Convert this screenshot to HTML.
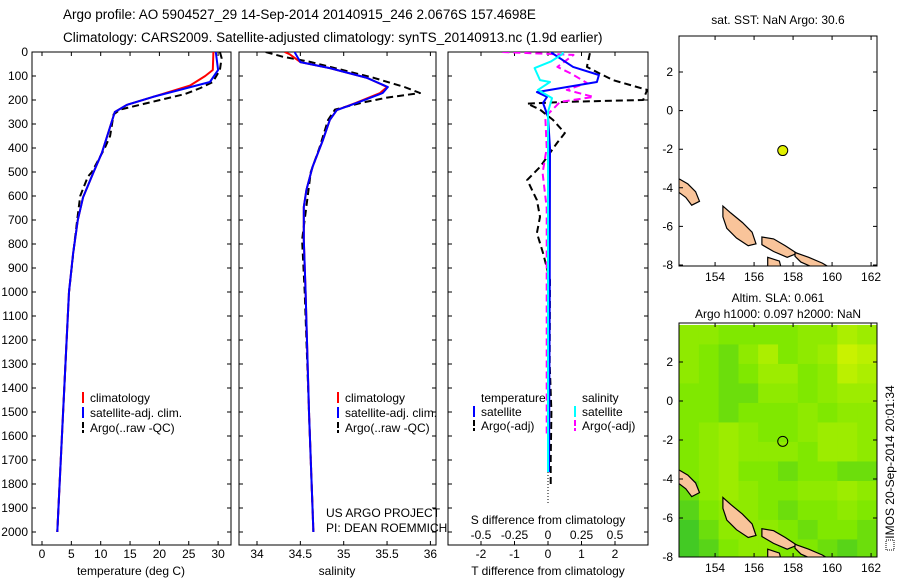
<!DOCTYPE html>
<html><head><meta charset="utf-8"><style>
body{margin:0;background:#fff;}
svg{display:block;font-family:"Liberation Sans",sans-serif;}
text{fill:#000;}
</style></head><body>
<svg id="s" width="900" height="580" viewBox="0 0 900 580">
<text x="63" y="19" font-size="13.5">Argo profile: AO 5904527_29 14-Sep-2014 20140915_246 2.0676S 157.4698E</text>
<text x="63" y="42" font-size="13.5">Climatology: CARS2009. Satellite-adjusted climatology: synTS_20140913.nc (1.9d earlier)</text>
<text x="778" y="24" font-size="12" text-anchor="middle">sat. SST: NaN Argo: 30.6</text>
<text x="778" y="302" font-size="12" text-anchor="middle">Altim. SLA: 0.061</text>
<text x="778" y="318" font-size="12" text-anchor="middle">Argo h1000: 0.097 h2000: NaN</text>
<text transform="translate(894,462) rotate(-90)" font-size="12" text-anchor="middle">IMOS 20-Sep-2014 20:01:34</text>
<rect x="886" y="540" width="8" height="10" fill="none" stroke="#000" stroke-dasharray="1,1"/>
<text x="131" y="575" font-size="12" text-anchor="middle">temperature (deg C)</text>
<text x="337" y="575" font-size="12" text-anchor="middle">salinity</text>
<text x="548" y="575" font-size="12" text-anchor="middle">T difference from climatology</text>
<text x="548" y="524" font-size="12" text-anchor="middle">S difference from climatology</text>
<text x="326" y="517" font-size="12">US ARGO PROJECT</text>
<text x="326" y="532" font-size="12">PI: DEAN ROEMMICH</text>
<g id="g"></g>
</svg>
<script>
// ---------- data ----------
const depthTicks=[0,100,200,300,400,500,600,700,800,900,1000,1100,1200,1300,1400,1500,1600,1700,1800,1900,2000];
const tempTicks=[0,5,10,15,20,25,30];
const salTicks=[34,34.5,35,35.5,36];
const tdiffTicks=[-2,-1,0,1,2];
const sdiffTicks=[-0.5,-0.25,0,0.25,0.5];
const sdiffTickLabels=["-0.5","-0.25","0","0.25","0.5"];
const lonTicks=[154,156,158,160,162];
const latTicks=[2,0,-2,-4,-6,-8];

const tClimDepth=[0,75,100,140,187,220,250,312,420,505,605,700,840,1000,1500,2000];
const tClimVal=[29.2,29.1,27.8,25.2,18.9,14.5,12.4,11.6,10.2,8.7,7,6.1,5.3,4.6,3.6,2.6];
const tSatDepth=[0,75,125,150,187,220,250,312,420,505,605,700,840,1000,1500,2000];
const tSatVal=[29.6,30,28.6,24.7,18.9,14.5,12.4,11.6,10.2,8.7,7,6.1,5.3,4.6,3.6,2.6];
const tArgoDepth=[0,25,75,125,150,175,200,220,240,260,350,400,500,520,600,700,800,1000,1500,2000];
const tArgoVal=[30.3,30.6,30.3,29.1,27,24.4,20.1,16.7,13.3,12.2,11.6,10.7,8.5,7.8,6.5,6,5.5,4.6,3.6,2.6];

const sClimDepth=[0,10,42,67,108,146,171,212,242,283,367,479,575,646,783,1000,1500,2000];
const sClimVal=[34.32,34.38,34.5,34.84,35.27,35.5,35.42,35.14,34.92,34.84,34.76,34.64,34.57,34.54,34.54,34.56,34.6,34.65];
const sSatDepth=[0,4,42,67,108,146,171,212,242,283,367,479,575,646,783,1000,1500,2000];
const sSatVal=[34.44,34.44,34.5,34.84,35.27,35.51,35.45,35.15,34.92,34.84,34.76,34.64,34.57,34.54,34.54,34.56,34.6,34.65];
const sArgoDepth=[0,20,40,108,146,171,190,212,240,283,400,500,783,1000,1500,2000];
const sArgoVal=[34.1,34.3,34.6,35.35,35.7,35.88,35.5,35.2,34.9,34.82,34.72,34.62,34.52,34.55,34.6,34.65];

const dtSatDepth=[0,4,62,96,125,146,167,187,212,270,400,1000,1750];
const dtSatVal=[0.12,0.12,0.75,1.52,1.46,0.57,-0.33,-0.03,-0.15,0,0.06,0.05,0.03];
const dsSatDepth=[0,8,40,67,117,125,158,192,250,600,1750];
const dsSatVal=[0.11,0.11,0.02,-0.1,-0.06,0.015,-0.075,0.03,0,0,0];
const dtArgoDepth=[5,62,90,117,158,200,208,215,240,283,338,379,479,533,617,687,754,837,950,1300,1500,1700,1800];
const dtArgoVal=[1.25,1.16,1.55,1.94,2.96,2.84,0.5,-0.62,-0.24,0.15,0.5,0.27,-0.24,-0.62,-0.33,-0.24,-0.33,-0.15,0.06,0.05,0.1,0.08,0.08];
const dsArgoDepth=[0,4,12,62,92,129,158,187,208,270,400,504,650,1000,1600];
const dsArgoVal=[-0.34,-0.16,0.19,0.07,0.18,0.29,0.14,0.34,0.09,-0.02,-0.01,-0.04,-0.01,-0.01,-0.01];

const argoLon=157.47, argoLat=-2.07;
const slaLons=[152.15,153.17,154.18,155.2,156.21,157.23,158.24,159.26,160.27,161.29];
const slaLats=[3.9,2.9,1.9,0.9,-0.1,-1.1,-2.1,-3.1,-4.1,-5.1,-6.1,-7.1];
const slaRows=[
[0.5,0.5,0.4,0.4,0.4,0.4,0.5,0.5,0.7,0.6],
[0.5,0.4,0.3,0.5,0.7,0.4,0.5,0.6,0.9,0.8],
[0.5,0.4,0.3,0.4,0.6,0.6,0.4,0.5,0.8,0.7],
[0.4,0.4,0.3,0.3,0.5,0.5,0.4,0.5,0.6,0.6],
[0.4,0.4,0.3,0.4,0.4,0.4,0.5,0.4,0.5,0.5],
[0.4,0.5,0.6,0.5,0.4,0.4,0.5,0.6,0.6,0.5],
[0.4,0.5,0.6,0.5,0.5,0.5,0.4,0.6,0.6,0.5],
[0.4,0.5,0.6,0.4,0.4,0.3,0.4,0.4,0.3,0.3],
[0.3,0.5,0.6,0.5,0.4,0.4,0.5,0.5,0.6,0.5],
[0.2,0.4,0.5,0.5,0.4,0.3,0.4,0.4,0.5,0.4],
[0.1,0.3,0.5,0.5,0.5,0.4,0.3,0.4,0.4,0.3],
[0.1,0.2,0.4,0.5,0.5,0.4,0.4,0.3,0.2,0.3]];
const islands=[
[[152.1,-3.5],[152.6,-3.8],[153.0,-4.2],[153.2,-4.7],[152.8,-4.9],[152.5,-4.5],[152.1,-4.2]],
[[154.4,-4.95],[154.8,-5.3],[155.4,-5.8],[155.9,-6.3],[156.1,-6.9],[155.7,-7.0],[155.1,-6.6],[154.6,-6.1],[154.4,-5.5]],
[[156.4,-6.55],[157.0,-6.65],[157.6,-7.0],[158.2,-7.4],[157.7,-7.6],[157.0,-7.3],[156.4,-6.95]],
[[158.1,-7.35],[158.8,-7.6],[159.5,-7.9],[160.0,-8.2],[159.2,-8.2],[158.4,-7.85],[158.1,-7.55]],
[[156.7,-7.6],[157.3,-7.8],[157.4,-8.2],[156.7,-8.2]]];

// ---------- helpers ----------
const NS="http://www.w3.org/2000/svg", G=document.getElementById('g');
function mk(tag,attrs,parent){const e=document.createElementNS(NS,tag);for(const k in attrs)e.setAttribute(k,attrs[k]);(parent||G).appendChild(e);return e;}
const top0=52, bot0=545;
const yD=d=>top0+d*0.24;
const P1={l:32,r:231,x:v=>42+v*5.87};
const P2={l:239,r:436,x:v=>257+(v-34)*86.7};
const P3={l:448,r:648,x:v=>548+v*33.5};
const xS3=v=>548+v*134;

function frame(p,name){
  const r=mk('rect',{x:p.l,y:top0,width:p.r-p.l,height:bot0-top0,fill:'none',stroke:'#000','stroke-width':1});
  
  
  depthTicks.forEach(d=>{
    const t=mk('path',{d:`M${p.l},${yD(d)}h4M${p.r},${yD(d)}h-4`,stroke:'#000'});
    
    
  });
}
function xticks(ticks,fx,labels,y,name){
  ticks.forEach((v,i)=>{
    const x=fx(v);
    const t=mk('path',{d:`M${x},${bot0}v-4M${x},${top0}v4`,stroke:'#000'});
    
    
    const tx=mk('text',{x:x,y:y,'font-size':12,'text-anchor':'middle'});
    tx.textContent=labels?labels[i]:String(v);
    
    
  });
}
function line(ds,vs,fx,color,dash,name,w){
  const pts=ds.map((d,i)=>fx(vs[i]).toFixed(1)+','+yD(d).toFixed(1)).join(' ');
  const a={points:pts,fill:'none',stroke:color,'stroke-width':w||2,'stroke-linejoin':'round','clip-path':'url(#cp3)'};
  if(dash)a['stroke-dasharray']=dash;
  const e=mk('polyline',a);
  
  
}
const defs=mk('defs',{});
const cp=mk('clipPath',{id:'cp3'},defs);mk('rect',{x:0,y:top0,width:648,height:bot0-top0},cp);

frame(P1,'temperature-panel');frame(P2,'salinity-panel');frame(P3,'difference-panel');
depthTicks.forEach(d=>{
  const t=mk('text',{x:28,y:yD(d)+4,'font-size':12,'text-anchor':'end'});
  t.textContent=d;
  
  
});
xticks(tempTicks,P1.x,null,558,'temp');
xticks(salTicks,P2.x,null,558,'salinity');
xticks(tdiffTicks,P3.x,null,558,'tdiff');
sdiffTicks.forEach((v,i)=>{
  const t=mk('text',{x:xS3(v),y:539,'font-size':12,'text-anchor':'middle'});
  t.textContent=sdiffTickLabels[i];
  
  
});
const zl=mk('line',{x1:548,y1:472,x2:548,y2:503,stroke:'#000','stroke-dasharray':'1,2'});



line(tArgoDepth,tArgoVal,P1.x,'#000','7,4','temp-argo-line');
line(tClimDepth,tClimVal,P1.x,'#f00',null,'temp-clim-line');
line(tSatDepth,tSatVal,P1.x,'#00f',null,'temp-sat-line');
line(sArgoDepth,sArgoVal,P2.x,'#000','7,4','sal-argo-line');
line(sClimDepth,sClimVal,P2.x,'#f00',null,'sal-clim-line');
line(sSatDepth,sSatVal,P2.x,'#00f',null,'sal-sat-line');
line(dtArgoDepth,dtArgoVal,P3.x,'#000','7,4','tdiff-argo-line');
line(dsArgoDepth,dsArgoVal,xS3,'#f0f','7,4','sdiff-argo-line');
line(dtSatDepth,dtSatVal,P3.x,'#00f',null,'tdiff-sat-line');
line(dsSatDepth,dsSatVal,xS3,'#0ff',null,'sdiff-sat-line');

function leg(x,y,color,dash,label,name){
  const m=mk('line',{x1:x,y1:y-10,x2:x,y2:y+1,stroke:color,'stroke-width':2});
  
  
  if(dash) m.setAttribute('stroke-dasharray','6,2');
  const t=mk('text',{x:x+7,y:y,'font-size':12});
  t.textContent=label;
  
  
}
[[83,'climatology','#f00'],[83,'satellite-adj. clim.','#00f'],[83,'Argo(..raw -QC)','#000']].forEach((a,i)=>leg(a[0],402+i*15,a[2],i==2,a[1],'temp-legend-entry'));
[[338,'climatology','#f00'],[338,'satellite-adj. clim.','#00f'],[338,'Argo(..raw -QC)','#000']].forEach((a,i)=>leg(a[0],402+i*15,a[2],i==2,a[1],'sal-legend-entry'));
const lt=mk('text',{x:481,y:402,'font-size':12});lt.textContent='temperature';


const ls=mk('text',{x:582,y:402,'font-size':12});ls.textContent='salinity';


leg(474,416,'#00f',false,'satellite','legend-t-satellite');
leg(474,430,'#000',true,'Argo(-adj)','legend-t-argo');
leg(575,416,'#0ff',false,'satellite','legend-s-satellite');
leg(575,430,'#f0f',true,'Argo(-adj)','legend-s-argo');

function makeMap(M,name){
  const mx=lon=>M.l+(lon-152.15)*19.5, my=lat=>M.y2+(2-lat)*M.sy;
  const c=mk('clipPath',{id:name+'-clip'},defs);mk('rect',{x:M.l,y:M.t,width:M.r-M.l,height:M.b-M.t},c);
  const g=mk('g',{'clip-path':`url(#${name}-clip)`});
  
  
  if(M.heat){
    slaRows.forEach((row,ri)=>row.forEach((v,ci)=>{
      const x0=mx(slaLons[ci]), y0=my(slaLats[ri]);
      const col=v<0.4?mix([47,192,48],[128,232,0],v/0.4):mix([128,232,0],[216,244,0],(v-0.4)/0.6);
      const r=mk('rect',{x:x0,y:y0,width:20.5,height:20.5,fill:col},g);
      
      
    }));
  }
  islands.forEach(poly=>{
    const p=mk('polygon',{points:poly.map(q=>mx(q[0]).toFixed(1)+','+my(q[1]).toFixed(1)).join(' '),fill:'#f9c49a',stroke:'#000','stroke-width':1.2},g);
    
    
  });
  const f=mk('rect',{x:M.l,y:M.t,width:M.r-M.l,height:M.b-M.t,fill:'none',stroke:'#000'});
  
  
  lonTicks.forEach(v=>{
    const x=mx(v);
    const t=mk('path',{d:`M${x},${M.b}v-4M${x},${M.t}v4`,stroke:'#000'});
    
    
    const tx=mk('text',{x:x,y:M.b+15,'font-size':12,'text-anchor':'middle'});tx.textContent=v;
    
    
  });
  latTicks.forEach(v=>{
    const y=my(v);
    const t=mk('path',{d:`M${M.l},${y}h4M${M.r},${y}h-4`,stroke:'#000'});
    
    
    const tx=mk('text',{x:M.l-6,y:y+4,'font-size':12,'text-anchor':'end'});tx.textContent=v;
    
    
  });
  const pt=mk('circle',{cx:mx(argoLon),cy:my(argoLat),r:5,fill:M.heat?'none':'#e0f000',stroke:'#000'});
  
  
}
function mix(a,b,t){t=Math.max(0,Math.min(1,t));return 'rgb('+a.map((v,i)=>Math.round(v+(b[i]-v)*t)).join(',')+')';}
makeMap({l:679,r:877,t:36,b:266,y2:72,sy:19.3},'sst-map');
makeMap({l:679,r:877,t:323,b:557,y2:362,sy:19.5,heat:true},'sla-map');
</script>
</body></html>
